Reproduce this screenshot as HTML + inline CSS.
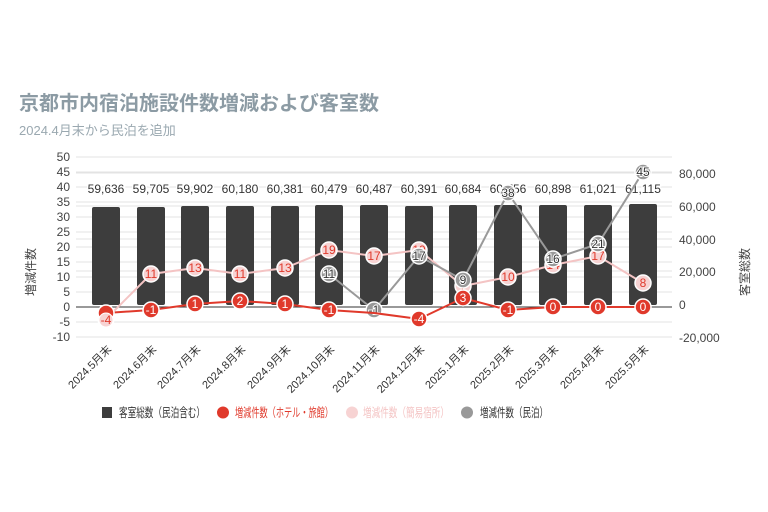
<!DOCTYPE html>
<html><head><meta charset="utf-8"><style>
body{margin:0;background:#fff;}
svg{font-family:"Liberation Sans","Noto Sans CJK JP",sans-serif;display:block}
</style></head><body>
<svg width="768" height="512" viewBox="0 0 768 512">
<text x="19" y="110" font-size="20" font-weight="bold" fill="#8c9ba4">京都市内宿泊施設件数増減および客室数</text>
<text x="19" y="135" font-size="13" fill="#9aa8b0">2024.4月末から民泊を追加</text>
<g stroke="#e3e3e3" stroke-width="1">
<line x1="76" x2="672" y1="157" y2="157"/><line x1="76" x2="672" y1="172" y2="172"/><line x1="76" x2="672" y1="187" y2="187"/><line x1="76" x2="672" y1="202" y2="202"/><line x1="76" x2="672" y1="217" y2="217"/><line x1="76" x2="672" y1="232" y2="232"/><line x1="76" x2="672" y1="247" y2="247"/><line x1="76" x2="672" y1="262" y2="262"/><line x1="76" x2="672" y1="277" y2="277"/><line x1="76" x2="672" y1="292" y2="292"/><line x1="76" x2="672" y1="322" y2="322"/><line x1="76" x2="672" y1="337" y2="337"/>
<line x1="76" x2="672" y1="173" y2="173"/><line x1="76" x2="672" y1="206" y2="206"/><line x1="76" x2="672" y1="239" y2="239"/><line x1="76" x2="672" y1="271" y2="271"/>
</g>
<g font-size="12" fill="#444" text-anchor="end">
<text x="70" y="161">50</text><text x="70" y="176">45</text><text x="70" y="191">40</text><text x="70" y="206">35</text><text x="70" y="221">30</text><text x="70" y="236">25</text><text x="70" y="251">20</text><text x="70" y="266">15</text><text x="70" y="281">10</text><text x="70" y="296">5</text><text x="70" y="311">0</text><text x="70" y="326">-5</text><text x="70" y="341">-10</text>
</g>
<g font-size="12" fill="#444">
<text x="679" y="178">80,000</text><text x="679" y="211">60,000</text><text x="679" y="244">40,000</text><text x="679" y="276">20,000</text><text x="679" y="309">0</text><text x="679" y="342">-20,000</text>
</g>
<text transform="translate(35,272) rotate(-90)" font-size="12" fill="#444" text-anchor="middle">増減件数</text>
<text transform="translate(749,272) rotate(-90)" font-size="12" fill="#444" text-anchor="middle">客室総数</text>
<g fill="#3d3d3d">
<rect x="92" y="207" width="28" height="98" rx="2"/><rect x="137" y="207" width="28" height="98" rx="2"/><rect x="181" y="206" width="28" height="99" rx="2"/><rect x="226" y="206" width="28" height="99" rx="2"/><rect x="271" y="206" width="28" height="99" rx="2"/><rect x="315" y="205" width="28" height="100" rx="2"/><rect x="360" y="205" width="28" height="100" rx="2"/><rect x="405" y="206" width="28" height="99" rx="2"/><rect x="449" y="205" width="28" height="100" rx="2"/><rect x="494" y="205" width="28" height="100" rx="2"/><rect x="539" y="205" width="28" height="100" rx="2"/><rect x="584" y="205" width="28" height="100" rx="2"/><rect x="629" y="204" width="28" height="101" rx="2"/>
</g>
<line x1="76" x2="672" y1="307" y2="307" stroke="#333" stroke-width="1"/>
<g font-size="12" fill="#333" text-anchor="middle" stroke="#fff" stroke-width="3" paint-order="stroke">
<text x="106" y="193">59,636</text><text x="151" y="193">59,705</text><text x="195" y="193">59,902</text><text x="240" y="193">60,180</text><text x="285" y="193">60,381</text><text x="329" y="193">60,479</text><text x="374" y="193">60,487</text><text x="419" y="193">60,391</text><text x="463" y="193">60,684</text><text x="508" y="193">60,756</text><text x="553" y="193">60,898</text><text x="598" y="193">61,021</text><text x="643" y="193">61,115</text>
</g>
<polyline fill="none" stroke="#f4c4c4" stroke-width="2" points="106,319 151,274 195,268 240,274 285,268 329,250 374,256 419,250 463,286 508,277 553,265 598,256 643,283"/>
<g fill="#f7d3d3" stroke="#fff" stroke-width="1.5">
<circle cx="106" cy="319" r="8"/><circle cx="151" cy="274" r="8"/><circle cx="195" cy="268" r="8"/><circle cx="240" cy="274" r="8"/><circle cx="285" cy="268" r="8"/><circle cx="329" cy="250" r="8"/><circle cx="374" cy="256" r="8"/><circle cx="419" cy="250" r="8"/><circle cx="463" cy="286" r="8"/><circle cx="508" cy="277" r="8"/><circle cx="553" cy="265" r="8"/><circle cx="598" cy="256" r="8"/><circle cx="643" cy="283" r="8"/>
</g>
<g font-size="12" fill="#e0392b" text-anchor="middle">
<text x="151" y="278">11</text><text x="195" y="272">13</text><text x="240" y="278">11</text><text x="285" y="272">13</text><text x="329" y="254">19</text><text x="374" y="260">17</text><text x="419" y="254">19</text><text x="463" y="290">7</text><text x="508" y="281">10</text><text x="553" y="269">14</text><text x="598" y="260">17</text><text x="643" y="287">8</text>
</g>
<polyline fill="none" stroke="#999" stroke-width="2" points="329,274 374,310 419,256 463,280 508,193 553,259 598,244 643,172"/>
<g fill="#999" stroke="#fff" stroke-width="1.5">
<circle cx="329" cy="274" r="8"/><circle cx="374" cy="310" r="8"/><circle cx="419" cy="256" r="8"/><circle cx="463" cy="280" r="8"/><circle cx="508" cy="193" r="8"/><circle cx="553" cy="259" r="8"/><circle cx="598" cy="244" r="8"/><circle cx="643" cy="172" r="8"/>
</g>
<g font-size="12" fill="#333" text-anchor="middle" stroke="#fff" stroke-width="2" paint-order="stroke">
<text x="329" y="278">11</text><text x="374" y="314">-1</text><text x="419" y="260">17</text><text x="463" y="284">9</text><text x="508" y="197">38</text><text x="553" y="263">16</text><text x="598" y="248">21</text><text x="643" y="176">45</text>
</g>
<polyline fill="none" stroke="#e0392b" stroke-width="2" points="106,313 151,310 195,304 240,301 285,304 329,310 374,313 419,319 463,298 508,310 553,307 598,307 643,307"/>
<g fill="#e0392b" stroke="#fff" stroke-width="1.5">
<circle cx="106" cy="313" r="8"/><circle cx="151" cy="310" r="8"/><circle cx="195" cy="304" r="8"/><circle cx="240" cy="301" r="8"/><circle cx="285" cy="304" r="8"/><circle cx="329" cy="310" r="8"/><circle cx="419" cy="319" r="8"/><circle cx="463" cy="298" r="8"/><circle cx="508" cy="310" r="8"/><circle cx="553" cy="307" r="8"/><circle cx="598" cy="307" r="8"/><circle cx="643" cy="307" r="8"/>
</g>
<circle cx="106" cy="320" r="7" fill="#f7d3d3" stroke="#fff" stroke-width="1"/>
<text x="106" y="324" font-size="12" fill="#e0392b" text-anchor="middle">-4</text>
<g font-size="12" fill="#fff" text-anchor="middle">
<text x="151" y="314">-1</text><text x="195" y="308">1</text><text x="240" y="305">2</text><text x="285" y="308">1</text><text x="329" y="314">-1</text><text x="419" y="323">-4</text><text x="463" y="302">3</text><text x="508" y="314">-1</text><text x="553" y="311">0</text><text x="598" y="311">0</text><text x="643" y="311">0</text>
</g>
<g font-size="11" fill="#333" text-anchor="end">
<text transform="translate(112,350) rotate(-45)">2024.5月末</text>
<text transform="translate(157,350) rotate(-45)">2024.6月末</text>
<text transform="translate(201,350) rotate(-45)">2024.7月末</text>
<text transform="translate(246,350) rotate(-45)">2024.8月末</text>
<text transform="translate(291,350) rotate(-45)">2024.9月末</text>
<text transform="translate(335,350) rotate(-45)">2024.10月末</text>
<text transform="translate(380,350) rotate(-45)">2024.11月末</text>
<text transform="translate(425,350) rotate(-45)">2024.12月末</text>
<text transform="translate(469,350) rotate(-45)">2025.1月末</text>
<text transform="translate(514,350) rotate(-45)">2025.2月末</text>
<text transform="translate(559,350) rotate(-45)">2025.3月末</text>
<text transform="translate(604,350) rotate(-45)">2025.4月末</text>
<text transform="translate(649,350) rotate(-45)">2025.5月末</text>
</g>
<g font-size="12.5">
<rect x="102" y="407" width="10" height="11" fill="#3d3d3d"/>
<text x="119" y="417" fill="#333" textLength="86" lengthAdjust="spacingAndGlyphs">客室総数（民泊含む）</text>
<circle cx="223" cy="412.5" r="6" fill="#e0392b"/>
<text x="235" y="417" fill="#e0392b" textLength="98" lengthAdjust="spacingAndGlyphs">増減件数（ホテル・旅館）</text>
<circle cx="352" cy="412.5" r="6" fill="#f7d3d3"/>
<text x="363" y="417" fill="#f4c4c4" textLength="86" lengthAdjust="spacingAndGlyphs">増減件数（簡易宿所）</text>
<circle cx="467" cy="412.5" r="6" fill="#999"/>
<text x="480" y="417" fill="#333" textLength="68" lengthAdjust="spacingAndGlyphs">増減件数（民泊）</text>
</g>
</svg>
</body></html>
